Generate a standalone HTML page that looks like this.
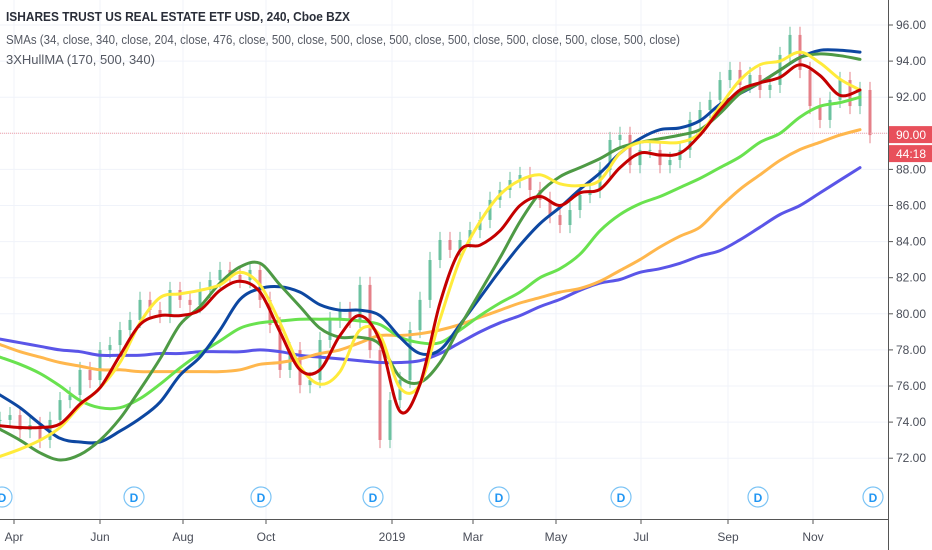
<!DOCTYPE html>
<html><head><meta charset="utf-8"><style>
body{margin:0;background:#fff;}
svg{display:block;font-family:"Liberation Sans",sans-serif;}
</style></head><body>
<svg id="chart" width="932" height="550" viewBox="0 0 932 550" xmlns="http://www.w3.org/2000/svg">
<g id="grid"></g>
<g id="plot"></g>
<g id="axes"></g>
<g font-size="13" fill="#131722">
<text x="6" y="21" font-weight="bold" fill="#2a2e39" textLength="344" lengthAdjust="spacingAndGlyphs">ISHARES TRUST US REAL ESTATE ETF USD, 240, Cboe BZX</text>
<text x="6" y="44" fill="#555963" textLength="674" lengthAdjust="spacingAndGlyphs">SMAs (34, close, 340, close, 204, close, 476, close, 500, close, 500, close, 500, close, 500, close, 500, close, 500, close, 500, close)</text>
<text x="6" y="64" fill="#555963" textLength="149" lengthAdjust="spacingAndGlyphs">3XHullMA (170, 500, 340)</text>
</g>
</svg>
<script>
const priceTicks=[96,94,92,90,88,86,84,82,80,78,76,74,72];
const monthLabels=["Apr","Jun","Aug","Oct","2019","Mar","May","Jul","Sep","Nov"];
const monthIdx=[1.4,10,18.3,26.6,39.2,47.3,55.6,64.1,72.8,81.3];
const dividendIdx=[0.2,13.4,26.1,37.3,49.9,62.1,75.8,87.3];
const closes=[74.12,74.39,73.56,73.84,73.01,74.12,75.22,75.50,76.89,76.33,77.99,78.27,79.10,79.66,80.77,80.21,79.93,81.32,80.77,80.49,81.32,81.87,82.43,82.15,81.87,82.43,80.77,79.38,76.89,77.99,76.05,76.33,78.55,79.66,80.21,79.66,81.60,77.99,73.01,75.22,76.33,79.10,80.77,82.98,84.09,83.54,84.09,84.64,85.20,86.31,86.86,87.41,87.69,86.86,86.31,85.47,84.92,85.75,86.58,86.86,87.97,89.63,89.91,88.24,89.08,89.08,88.24,88.52,89.08,90.74,91.29,91.85,92.95,93.51,92.68,93.23,92.40,92.68,94.34,95.45,93.51,91.51,90.74,91.85,92.95,91.51,92.40,89.9];
const hullRed=[73.8,73.7,73.7,73.9,75.0,75.9,77.7,79.4,79.9,79.9,80.2,81.3,81.8,81.2,79.0,76.9,76.9,78.8,79.9,78.5,74.6,76.1,80.6,83.5,83.8,84.6,86.0,86.5,86.0,86.7,86.9,88.1,88.9,88.8,88.9,89.9,91.3,92.4,92.8,93.1,93.8,93.2,92.1,92.4];
const smaYellow=[72.1,72.5,73.0,73.7,74.9,75.9,77.3,79.5,80.9,81.1,81.3,81.6,82.3,81.6,79.5,77.1,76.1,76.8,79.1,78.8,75.9,76.1,79.7,83.0,85.1,86.6,87.4,87.7,87.2,87.1,87.4,88.9,89.5,89.5,89.5,90.0,91.5,92.95,93.8,94.0,94.5,93.9,93.0,92.4];
const smaDarkGreen=[73.6,73.0,72.3,71.9,72.2,73.0,74.2,75.8,77.5,79.4,80.4,81.7,82.6,82.8,81.6,80.4,79.2,78.7,78.7,78.3,76.5,76.2,77.3,79.3,81.2,83.1,85.1,86.7,87.6,88.1,88.6,89.2,89.5,89.7,89.9,90.2,91.1,92.2,92.8,93.5,94.2,94.4,94.3,94.1];
const smaNavy=[75.5,74.8,73.9,73.1,72.9,72.9,73.5,74.2,75.1,76.6,77.6,79.1,80.8,81.4,81.5,81.2,80.5,80.2,80.2,79.9,78.7,77.8,78.0,79.4,80.9,82.4,83.8,85.0,85.9,86.9,87.8,88.9,89.7,90.2,90.3,90.7,91.6,92.2,92.8,93.5,94.2,94.6,94.6,94.5];
const smaLightGreen=[77.6,77.2,76.7,76.0,75.2,74.8,74.8,75.3,76.1,77.0,77.8,78.5,79.2,79.5,79.6,79.7,79.7,79.7,79.6,79.4,78.7,78.4,78.4,79.1,79.9,80.6,81.2,82.0,82.5,83.3,84.6,85.5,86.1,86.5,87.0,87.5,88.1,88.7,89.5,90.0,90.9,91.5,91.7,92.0];
const smaOrange=[78.3,77.9,77.6,77.3,77.1,76.9,76.9,76.8,76.8,76.8,76.8,76.8,76.9,77.2,77.3,77.5,77.8,78.0,78.4,78.8,78.8,78.9,79.1,79.4,79.8,80.2,80.6,80.9,81.2,81.4,81.8,82.4,83.0,83.7,84.3,84.8,85.9,86.9,87.7,88.5,89.1,89.5,89.9,90.2];
const smaPurple=[78.6,78.4,78.2,78.0,77.9,77.7,77.7,77.7,77.8,77.8,77.9,77.9,77.9,78.0,77.9,77.7,77.6,77.5,77.4,77.3,77.3,77.4,77.8,78.4,79.0,79.5,79.9,80.4,80.8,81.3,81.7,81.9,82.3,82.5,82.8,83.2,83.5,84.1,84.8,85.5,86.0,86.7,87.4,88.1];
const lastPrice=89.9;

const NS="http://www.w3.org/2000/svg";
const PW=888, PB=519;
const y=v=>25+(96-v)*18.05;
const x=i=>i*10;
function mk(tag,attrs,parent){const e=document.createElementNS(NS,tag);for(const k in attrs)e.setAttribute(k,attrs[k]);parent.appendChild(e);return e;}
const grid=document.getElementById('grid'),plot=document.getElementById('plot'),axes=document.getElementById('axes');
priceTicks.forEach(v=>{
  const l=mk('line',{x1:0,x2:PW,y1:y(v),y2:y(v),stroke:'#f0f3fa'},grid);
  
  
  const t=mk('line',{x1:PW,x2:PW+5,y1:y(v),y2:y(v),stroke:'#555'},axes);
  
  
  const tx=mk('text',{x:PW+8,y:y(v)+4,'font-size':12,fill:'#4a4e59'},axes);
  tx.textContent=v.toFixed(2);
  
  
});
monthIdx.forEach((m,k)=>{
  const l=mk('line',{x1:x(m),x2:x(m),y1:0,y2:PB,stroke:'#f0f3fa'},grid);
  
  
  const t=mk('line',{x1:x(m),x2:x(m),y1:PB,y2:PB+5,stroke:'#555'},axes);
  
  
  const tx=mk('text',{x:x(m),y:541,'font-size':12,fill:'#4a4e59','text-anchor':'middle'},axes);
  tx.textContent=monthLabels[k];
  
  
});
closes.forEach((c,i)=>{
  const o=i?closes[i-1]:c;const up=c>=o;const col=up?'#6cc2a0':'#e58089';
  const hi=Math.max(o,c)+0.45,lo=Math.min(o,c)-0.45;
  const w=mk('line',{x1:x(i),x2:x(i),y1:y(hi),y2:y(lo),stroke:col,'stroke-width':1},plot);
  
  
  const b=mk('rect',{x:x(i)-1.5,y:y(Math.max(o,c)),width:3,height:Math.max(1,Math.abs(y(o)-y(c))),fill:col},plot);
  
  
});
const pl=mk('line',{x1:0,x2:PW,y1:y(90),y2:y(90),stroke:'#f4a0a8','stroke-width':1,'stroke-dasharray':'1 1'},plot);


function series(arr,col,w,name){
  const P=arr.map((v,i)=>[x(i*2),y(v)]);
  let d='M'+P[0][0]+' '+P[0][1].toFixed(1);
  for(let i=0;i<P.length-1;i++){
    const p0=P[Math.max(0,i-1)],p1=P[i],p2=P[i+1],p3=P[Math.min(P.length-1,i+2)];
    const c1=[p1[0]+(p2[0]-p0[0])/6,p1[1]+(p2[1]-p0[1])/6],c2=[p2[0]-(p3[0]-p1[0])/6,p2[1]-(p3[1]-p1[1])/6];
    d+=' C'+c1[0].toFixed(1)+' '+c1[1].toFixed(1)+' '+c2[0].toFixed(1)+' '+c2[1].toFixed(1)+' '+p2[0]+' '+p2[1].toFixed(1);
  }
  const p=mk('path',{d:d,fill:'none',stroke:col,'stroke-width':w,'stroke-linejoin':'round','stroke-linecap':'round'},plot);
  
  
}
series(smaPurple,'#5a55e8',3,'sma-purple-line');
series(smaOrange,'#ffb74d',3,'sma-orange-line');
series(smaLightGreen,'#69e24f',3,'sma-light-green-line');
series(smaNavy,'#0d47a1',3,'sma-navy-line');
series(smaDarkGreen,'#4e9a45',3,'sma-dark-green-line');
series(smaYellow,'#ffeb3b',3,'sma-yellow-line');
series(hullRed,'#c40000',3,'hullma-red-line');
dividendIdx.forEach(d=>{
  const g=mk('g',{},plot);
  
  
  mk('circle',{cx:x(d),cy:497,r:10,fill:'#fff',stroke:'#7cc4f5','stroke-width':1.2},g);
  const t=mk('text',{x:x(d),y:502,'font-size':12,'font-weight':'bold',fill:'#2196f3','text-anchor':'middle'},g);
  t.textContent='D';
});
const ax1=mk('line',{x1:PW+0.5,x2:PW+0.5,y1:0,y2:550,stroke:'#555'},axes);


const ax2=mk('line',{x1:0,x2:PW,y1:PB+0.5,y2:PB+0.5,stroke:'#555'},axes);


const pb=mk('rect',{x:PW+1,y:y(lastPrice)-9,width:43,height:17,fill:'#e8505b'},axes);


const pt=mk('text',{x:PW+8,y:y(lastPrice)+4,'font-size':12,fill:'#fff'},axes);
pt.textContent='90.00';


const cb=mk('rect',{x:PW+1,y:y(lastPrice)+10,width:43,height:17,fill:'#e8505b'},axes);


const ct=mk('text',{x:PW+8,y:y(lastPrice)+23,'font-size':12,fill:'#fff'},axes);
ct.textContent='44:18';


</script>
</body></html>
